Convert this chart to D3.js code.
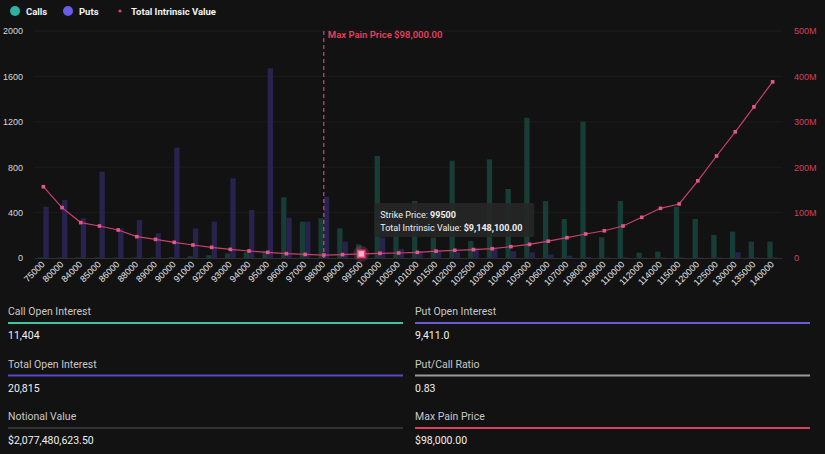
<!DOCTYPE html>
<html>
<head>
<meta charset="utf-8">
<script src="https://cdn.jsdelivr.net/npm/d3@7"></script>
<style>
  html, body { margin: 0; padding: 0; background: #121212; }
  svg { display: block; font-family: Roboto, "Noto Sans", sans-serif; }
</style>
</head>
<body>
<svg id="chart" width="825" height="454"></svg>
<script>
// strikes and open interest
var strikes = ["75000","80000","84000","85000","86000","88000","89000","90000","91000","92000",
  "93000","94000","95000","96000","97000","98000","99000","99500","100000","100500",
  "101000","101500","102000","102500","103000","104000","105000","106000","107000","108000",
  "109000","110000","112000","114000","115000","120000","125000","130000","135000","140000"];
var calls = [5,5,5,5,5,5,5,8,15,25,40,50,60,535,320,350,262,120,899,300,
  502,180,857,150,869,608,1236,502,344,1201,182,502,47,56,452,344,203,232,144,144];
var puts = [452,511,350,760,260,335,217,972,260,320,702,423,1671,355,320,540,144,60,180,80,
  60,60,50,90,80,60,50,30,20,10,5,5,5,5,5,5,5,50,5,5];
var intrinsic = [157e6,111e6,78e6,70.5e6,61.7e6,47e6,41e6,34.5e6,28.6e6,23.5e6,
  19e6,15.4e6,12.5e6,9.5e6,8e6,6.5e6,7.5e6,9.1481e6,10.3e6,11e6,
  12.5e6,15e6,17e6,18.5e6,20.5e6,25e6,30e6,37e6,44.8e6,52.9e6,
  60e6,70.5e6,89.6e6,109.4e6,119e6,170e6,224.7e6,278e6,333e6,388e6];
var leftTicks = [0,400,800,1200,1600,2000];
var rightTicks = [0,100e6,200e6,300e6,400e6,500e6];
var maxPain = "98000";
var hoverStrike = "99500";

var statRows = [
  {label: "Call Open Interest", value: "11,404", color: "#3ec3a4"},
  {label: "Put Open Interest", value: "9,411.0", color: "#6a5bd6"},
  {label: "Total Open Interest", value: "20,815", color: "#5a48d0"},
  {label: "Put/Call Ratio", value: "0.83", color: "#9a9a9a"},
  {label: "Notional Value", value: "$2,077,480,623.50", color: "#333333"},
  {label: "Max Pain Price", value: "$98,000.00", color: "#d8405e"}
];

var svg = d3.select("#chart");

var x = d3.scaleBand().domain(strikes).range([34, 782]).paddingInner(0);
var xs = d3.scaleBand().domain(["c","p"]).range([0, x.bandwidth()]).paddingInner(0).paddingOuter(0.76);
var y = d3.scaleLinear().domain([0, 2000]).range([258, 31]);
var y2 = d3.scaleLinear().domain([0, 500e6]).range([258, 31]);

// grid
svg.append("g").selectAll("line").data(leftTicks.slice(1)).enter().append("line")
  .attr("x1", 34).attr("x2", 782)
  .attr("y1", d => y(d)).attr("y2", d => y(d))
  .attr("stroke", "#1c1c1c").attr("stroke-width", 1);

// left axis
var gl = svg.append("g").attr("transform", "translate(23,0)")
  .call(d3.axisLeft(y).tickValues(leftTicks).tickSize(0).tickPadding(0).tickFormat(d3.format("d")));
gl.select(".domain").remove();
gl.selectAll("text").attr("fill", "#d8d8d8").style("font-size", "9px");

// right axis
var gr = svg.append("g").attr("transform", "translate(794,0)")
  .call(d3.axisRight(y2).tickValues(rightTicks).tickSize(0).tickPadding(0)
    .tickFormat(d => d === 0 ? "0" : (d / 1e6) + "M"));
gr.select(".domain").remove();
gr.selectAll("text").attr("fill", "#d63f5c").style("font-size", "9px");

// bars
svg.append("g").selectAll("rect").data(strikes).enter().append("rect")
  .attr("x", (d) => x(d) + xs("c"))
  .attr("y", (d, i) => y(calls[i]))
  .attr("width", xs.bandwidth())
  .attr("height", (d, i) => y(0) - y(calls[i]))
  .attr("fill", "#183d37");
svg.append("g").selectAll("rect").data(strikes).enter().append("rect")
  .attr("x", (d) => x(d) + xs("p"))
  .attr("y", (d, i) => y(puts[i]))
  .attr("width", xs.bandwidth())
  .attr("height", (d, i) => y(0) - y(puts[i]))
  .attr("fill", "#27234d");

// x axis
var gx = svg.append("g").attr("transform", "translate(0,258)")
  .call(d3.axisBottom(x).tickSize(0).tickPadding(0));
gx.select(".domain").attr("stroke", "#2e2e2e");
gx.selectAll("text")
  .attr("fill", "#e6e6e6").style("font-size", "9px")
  .attr("text-anchor", "end")
  .attr("dy", 0)
  .attr("transform", "translate(2,7) rotate(-45)");

// max pain line
var mpx = x(maxPain) + x.bandwidth() / 2;
svg.append("line").attr("x1", mpx).attr("x2", mpx).attr("y1", 31).attr("y2", 258)
  .attr("stroke", "#e0607e").attr("stroke-width", 1).attr("stroke-dasharray", "4,3");
svg.append("text").attr("x", mpx + 4).attr("y", 38)
  .attr("fill", "#e8405e").style("font-size", "9.5px").style("font-weight", "600")
  .text("Max Pain Price $98,000.00");

// intrinsic line
var line = d3.line().x((d, i) => x(strikes[i]) + x.bandwidth() / 2).y(d => y2(d));
svg.append("path").datum(intrinsic).attr("d", line)
  .attr("fill", "none").attr("stroke", "#c93f6e").attr("stroke-width", 1.2);
svg.append("g").selectAll("rect").data(intrinsic).enter().append("rect")
  .attr("x", (d, i) => x(strikes[i]) + x.bandwidth() / 2 - 1.8)
  .attr("y", d => y2(d) - 1.8)
  .attr("width", 3.6).attr("height", 3.6)
  .attr("fill", "#e0588a");

// hovered point + tooltip
var hi = strikes.indexOf(hoverStrike);
var hx = x(hoverStrike) + x.bandwidth() / 2, hy = y2(intrinsic[hi]);
svg.append("circle").attr("cx", hx).attr("cy", hy).attr("r", 8)
  .attr("fill", "#e8457a").attr("opacity", 0.25);
svg.append("rect").attr("x", hx - 3.5).attr("y", hy - 3.5).attr("width", 7).attr("height", 7)
  .attr("fill", "#f6b3c8").attr("stroke", "#e8457a").attr("stroke-width", 1.5);

var tip = svg.append("g").attr("transform", "translate(" + (hx + 13) + ",203)");
tip.append("rect").attr("width", 160).attr("height", 34).attr("rx", 2)
  .attr("fill", "#262626").attr("opacity", 0.92);
var t1 = tip.append("text").attr("x", 6).attr("y", 15).attr("fill", "#f0f0f0").style("font-size", "9px");
t1.append("tspan").text("Strike Price: ");
t1.append("tspan").style("font-weight", "bold").text(hoverStrike);
var t2 = tip.append("text").attr("x", 6).attr("y", 28).attr("fill", "#f0f0f0").style("font-size", "9px");
t2.append("tspan").text("Total Intrinsic Value: ");
t2.append("tspan").style("font-weight", "bold").text("$" + d3.format(",.2f")(intrinsic[hi]));

// legend
var legend = [
  {name: "Calls", color: "#2bb5a0", r: 5, x: 15},
  {name: "Puts", color: "#6b5ce7", r: 5, x: 68},
  {name: "Total Intrinsic Value", color: "#d8456b", r: 1.6, x: 120}
];
var lg = svg.append("g").selectAll("g").data(legend).enter().append("g")
  .attr("transform", d => "translate(" + d.x + ",11)");
lg.append("circle").attr("r", d => d.r).attr("fill", d => d.color);
lg.append("text").attr("x", 11).attr("y", 3.5).attr("fill", "#f2f2f2")
  .style("font-size", "9.5px").style("font-weight", "bold").text(d => d.name);

// stats
var sg = svg.append("g").selectAll("g").data(statRows).enter().append("g")
  .attr("transform", (d, i) => "translate(" + (i % 2 ? 415 : 8) + "," + (300 + Math.floor(i / 2) * 52.5) + ")");
sg.append("text").attr("y", 15).attr("fill", "#c8c8c8").style("font-size", "10.5px").text(d => d.label);
sg.append("line").attr("x1", 0).attr("x2", 395).attr("y1", 23).attr("y2", 23)
  .attr("stroke", d => d.color).attr("stroke-width", 2);
sg.append("text").attr("y", 39).attr("fill", "#f0f0f0").style("font-size", "10.5px").text(d => d.value);
</script>
</body>
</html>
